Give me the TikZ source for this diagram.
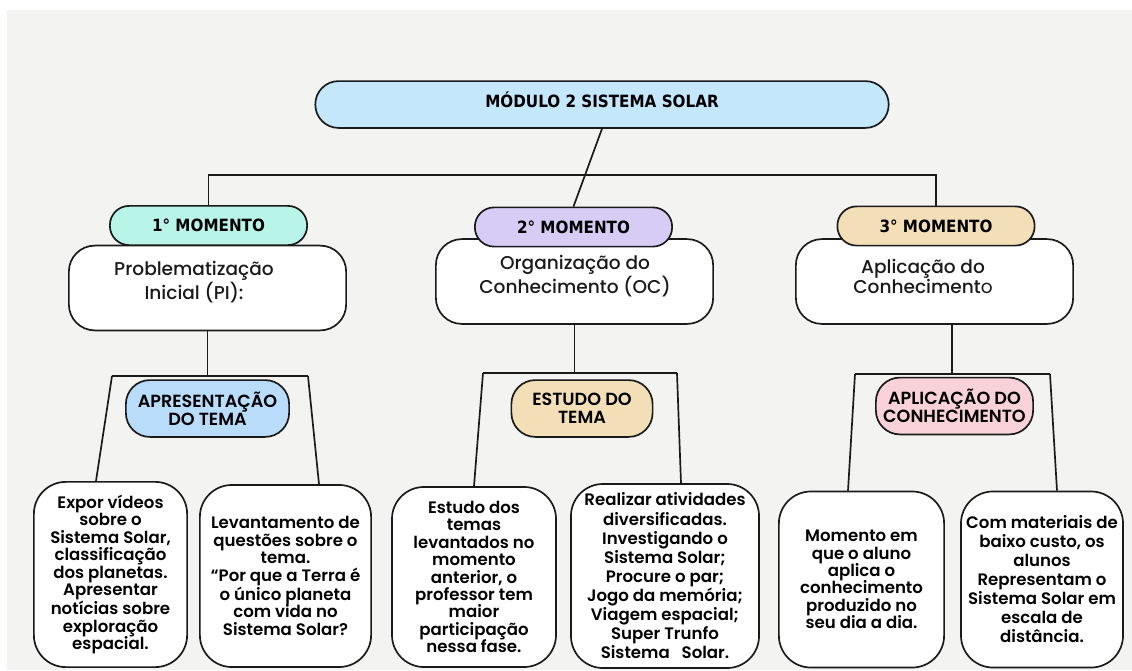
\documentclass[tikz,border=0pt]{standalone}
\usepackage{fontspec}
\setmainfont{Poppins}
\newfontfamily\corpo{Poppins SemiBold}
\newfontfamily\medio{Poppins Medium}
\newfontfamily\leve{Poppins}
\newfontfamily\estreita{DejaVu Sans Condensed}
\usetikzlibrary{positioning, calc}
\definecolor{Fundo}{HTML}{F3F3F2}
\definecolor{Traco}{HTML}{1A1A1A}
\definecolor{AzulTitulo}{HTML}{C5E7FC}
\definecolor{Menta}{HTML}{B8F5E8}
\definecolor{Lilas}{HTML}{D6CCF6}
\definecolor{Areia}{HTML}{F3DFB7}
\definecolor{AzulTema}{HTML}{B8DCFA}
\definecolor{Rosa}{HTML}{F8D2D8}
\tikzset{
    linha/.style={line width=1.2pt, color=Traco},
    titulo/.style={draw=Traco, line width=1.2pt, fill=AzulTitulo, rounded corners=0.58cm, minimum width=14.33cm, minimum height=1.17cm, font=\estreita\bfseries\fontsize{12}{14}\selectfont},
    momento/.style={draw=Traco, line width=1.2pt, rounded corners=0.48cm, minimum width=4.93cm, minimum height=0.98cm, font=\estreita\bfseries\fontsize{12}{14}\selectfont},
    fase/.style={draw=Traco, line width=1.2pt, fill=white, rounded corners=0.65cm, minimum width=6.93cm, minimum height=2.12cm},
    fasetexto/.style={align=center, font=\medio\fontsize{13.2}{14.2}\selectfont, text=Traco},
    tema/.style={draw=Traco, line width=1.2pt, rounded corners=0.6cm, minimum height=1.42cm, inner sep=0pt, align=center, font=\corpo\fontsize{12.5}{13}\selectfont},
    folha/.style={draw=Traco, line width=1.2pt, fill=white, rounded corners=0.8cm, align=center, inner sep=0pt, font=\corpo\fontsize{11.8}{12.4}\selectfont},
}
\begin{document}
\begin{tikzpicture}[x=0.025cm, y=-0.025cm]
    % Fundo e limites
    \useasboundingbox (0,0) rectangle (1132,671);
    \fill[Fundo] (7,10) rectangle (1132,670);

    % Titulo
    \node[titulo] (modulo) at (602,104.5) {\raisebox{0.25cm}{MÓDULO 2 SISTEMA SOLAR}};

    % Caixas das fases (desenhadas antes dos momentos)
    \node[fase] (pi) at (207.5,288) {};
    \node[fase] (oc) at (574.5,281.5) {};
    \node[fase] (ac) at (934.5,281.5) {};
    \node[fasetexto] (pi-t) at (194,282) {Problematização\\Inicial (PI):};
    \node[fasetexto] (oc-t) at (575,276) {Organização do\\Conhecimento (OC)};
    \node[fasetexto] (ac-t) at (923,276) {Aplicação do\\Conheciment{\leve o}};

    % Momentos
    \node[momento, fill=Menta] (m1) at (208.5,225.5) {1° MOMENTO};
    \node[momento, fill=Lilas] (m2) at (573.5,227) {2° MOMENTO};
    \node[momento, fill=Areia] (m3) at (936,226) {3° MOMENTO};

    % Ligacoes do titulo
    \coordinate (barra) at (0,175);
    \draw[linha] (modulo.south) -- (m2.north);
    \draw[linha] (m1.north) -- (m1.north |- barra) -- (m3.north |- barra) -- (m3.north);

    % Temas
    \node[tema, fill=AzulTema, minimum width=4.08cm] (s1) at (207.5,408.5) {APRESENTAÇÃO\\DO TEMA};
    \node[tema, fill=Areia, minimum width=3.53cm] (s2) at (582,408.5) {ESTUDO DO\\TEMA};
    \node[tema, fill=Rosa, minimum width=3.93cm] (s3) at (954.5,406) {APLICAÇÃO DO\\CONHECIMENTO};

    % Folhas
    \node[folha, minimum width=3.83cm, minimum height=4.63cm] (f1a) at (110.5,574.5) {Expor vídeos\\sobre o\\Sistema Solar,\\classificação\\dos planetas.\\Apresentar\\notícias sobre\\exploração\\espacial.};
    \node[folha, minimum width=4.28cm, minimum height=4.55cm] (f1b) at (285.5,576) {Levantamento de\\questões sobre o\\tema.\\“Por que a Terra é\\o único planeta\\com vida no\\Sistema Solar?};
    \node[folha, minimum width=4.1cm, minimum height=4.5cm] (f2a) at (474,577) {Estudo dos\\temas\\levantados no\\momento\\anterior, o\\professor tem\\maior\\participação\\nessa fase.};
    \node[folha, minimum width=4.7cm, minimum height=4.6cm, font=\corpo\fontsize{11.8}{13.6}\selectfont] (f2b) at (665,576) {Realizar atividades\\diversificadas.\\Investigando o\\Sistema Solar;\\Procure o par;\\Jogo da memória;\\Viagem espacial;\\Super Trunfo\\Sistema\ \ \ Solar.};
    \node[folha, minimum width=4.13cm, minimum height=4.4cm] (f3a) at (861.5,579.5) {Momento em\\que o aluno\\aplica o\\conhecimento\\produzido no\\seu dia a dia.};
    \node[folha, minimum width=4.05cm, minimum height=4.4cm, font=\corpo\fontsize{11.8}{13.5}\selectfont] (f3b) at (1042,579.5) {Com materiais de\\baixo custo, os\\alunos\\Representam o\\Sistema Solar em\\escala de\\distância.};

    % Ramos de cada fase
    \coordinate (b1e) at (112,376);
    \coordinate (b1d) at (308,376);
    \draw[linha] (pi.south) -- (pi.south |- b1e);
    \draw[linha] (b1e) -- (b1d);
    \draw[linha] (b1e) -- ($(f1a.north)+(-14.5,0)$);
    \draw[linha] (b1d) -- ($(f1b.north)+(33.5,0)$);

    \coordinate (b2e) at (483,373);
    \coordinate (b2d) at (677,373);
    \draw[linha] (oc.south) -- (oc.south |- b2e);
    \draw[linha] (b2e) -- (b2d);
    \draw[linha] (b2e) -- (f2a.north);
    \draw[linha] (b2d) -- ($(f2b.north)+(16,0)$);

    \coordinate (b3e) at (855,374);
    \coordinate (b3d) at (1050,374);
    \draw[linha] (ac.south -| 952,0) -- (952,374);
    \draw[linha] (b3e) -- (b3d);
    \draw[linha] (b3e) -- ($(f3a.north)+(-13.5,0)$);
    \draw[linha] (b3d) -- ($(f3b.north)+(15,0)$);
\end{tikzpicture}
\end{document}
